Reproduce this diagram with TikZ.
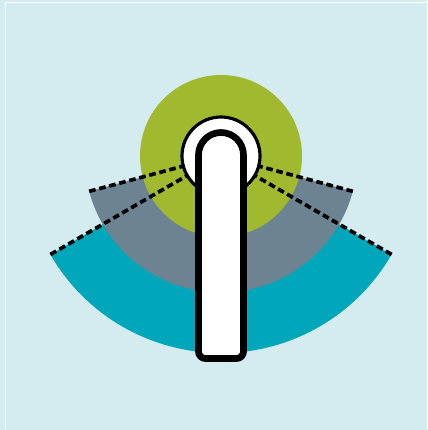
\documentclass[tikz,border=0pt]{standalone}
\usepackage{tikz}
\usetikzlibrary{calc}
\definecolor{bgblue}{HTML}{D4EBF0}
\definecolor{leafgreen}{HTML}{A0B92F}
\definecolor{slategray}{HTML}{6C8392}
\definecolor{seateal}{HTML}{00A7BB}
\tikzset{
  zoneline/.style={black, line width=2.1pt, dash pattern=on 3.8pt off 2.1pt},
  outline/.style={draw=black, fill=white},
}
\begin{document}
\begin{tikzpicture}
\useasboundingbox (-4.42,-5.48) rectangle (4.12,3.12);
% background and frame
\fill[bgblue] (-4.42,-5.48) rectangle (4.12,3.12);
\draw[white, line width=1pt] (-4.31,-5.48) -- (-4.31,3.07) -- (4.12,3.07);
% zones
\coordinate (hub) at (0,0);
\coordinate (tealL) at (210:3.94);
\coordinate (tealR) at (-30:3.94);
\coordinate (grayL) at (195:2.73);
\coordinate (grayR) at (-15:2.73);
\fill[seateal] (hub) -- (tealL) arc (210:330:3.94) -- cycle;
\fill[slategray] (hub) -- (grayL) arc (195:345:2.73) -- cycle;
\fill[leafgreen] (hub) circle (1.62);
% dashed limits
\draw[zoneline] (tealL) -- (hub);
\draw[zoneline] (tealR) -- (hub);
\draw[zoneline] (grayL) -- (hub);
\draw[zoneline] (grayR) -- (hub);
% handle
\draw[outline, line width=1.8pt] (hub) circle (0.78);
\draw[outline, line width=3.8pt]
  (-0.45,0.02) -- (-0.45,-3.91) arc (180:270:0.14) -- (0.31,-4.05)
  arc (270:360:0.14) -- (0.45,0.02) arc (0:180:0.45) -- cycle;
\end{tikzpicture}
\end{document}
